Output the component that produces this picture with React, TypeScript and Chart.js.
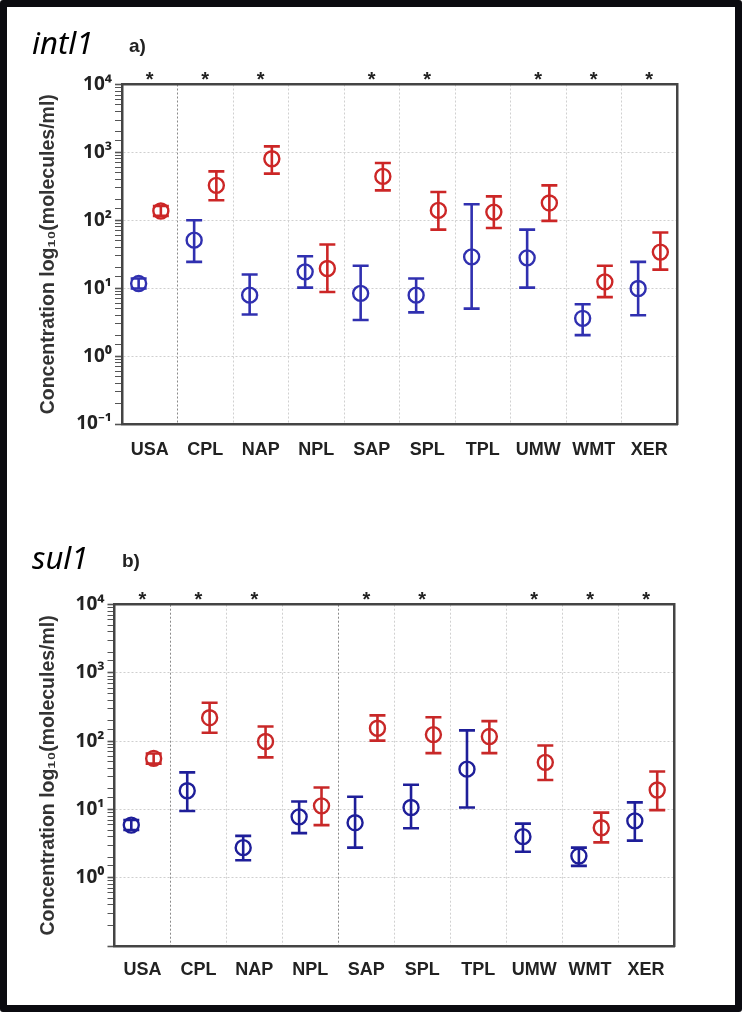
import React, { useEffect, useRef } from 'react';
import { Chart, registerables } from 'chart.js';

Chart.register(...registerables);

// ---------- data ----------
const categories = ['USA', 'CPL', 'NAP', 'NPL', 'SAP', 'SPL', 'TPL', 'UMW', 'WMT', 'XER'];

const intl1StarLabels = ['*', '*', '*', '', '*', '*', '', '*', '*', '*'];
const sul1StarLabels = ['*', '*', '*', '', '*', '*', '', '*', '*', '*'];

const yTickExponents = [-1, 0, 1, 2, 3, 4];
const intl1YTickLabels = ['10⁻¹', '10⁰', '10¹', '10²', '10³', '10⁴'];
const sul1YTickLabels = ['', '10⁰', '10¹', '10²', '10³', '10⁴'];
const yAxisTitle = 'Concentration log₁₀(molecules/ml)';

// intI1 (panel a)
const intl1BlueMean = [11.7, 51, 7.9, 17.4, 8.4, 7.9, 28.9, 28, 3.6, 9.9];
const intl1BlueLow = [9.9, 24.4, 4.1, 10.2, 3.4, 4.4, 5.0, 10.2, 2.04, 4.0];
const intl1BlueHigh = [13.9, 100, 15.9, 29.5, 21.4, 13.9, 172, 73, 5.8, 24.4];
const intl1RedMean = [137, 327, 807, 19.5, 443, 140, 132, 180, 12.4, 34];
const intl1RedLow = [116, 197, 487, 8.8, 276, 73, 77, 98, 7.4, 18.8];
const intl1RedHigh = [162, 525, 1226, 44, 697, 261, 225, 327, 21.4, 66];

// sul1 (panel b)
const sul1BlueMean = [5.9, 18.8, 2.76, 7.8, 6.4, 10.7, 39, 4.0, 2.08, 6.8];
const sul1BlueLow = [5.0, 9.5, 1.8, 4.5, 2.76, 5.3, 10.7, 2.4, 1.49, 3.5];
const sul1BlueHigh = [7.0, 35, 4.1, 13.1, 15.4, 23, 144, 6.2, 2.76, 12.7];
const sul1RedMean = [56, 221, 99, 11.3, 155, 125, 117, 49, 5.4, 19.3];
const sul1RedLow = [47, 133, 58, 5.9, 102, 67, 67, 27, 3.3, 9.8];
const sul1RedHigh = [66, 367, 164, 21, 239, 225, 197, 86.5, 9.0, 36];

// ---------- helpers ----------
const FONT = "'Liberation Sans', Arial, sans-serif";
const TICKFONT = "'Noto Sans', 'DejaVu Sans', sans-serif";
const isDecade = (v: number) => {
  const l = Math.log10(v);
  return Math.abs(l - Math.round(l)) < 1e-6;
};

type Area = { left: number; right: number; top: number; bottom: number };

type PanelProps = {
  top: number;
  height: number;
  area: Area;
  blueMean: number[];
  blueLow: number[];
  blueHigh: number[];
  redMean: number[];
  redLow: number[];
  redHigh: number[];
  stars: string[];
  yLabels: string[];
  blue: string;
  red: string;
  darkGrid: number[];
  labelPad: number;
};

function buildSeries(mean: number[], low: number[], high: number[], off: number, color: string) {
  const stems: any[] = [];
  const caps: any[] = [];
  low.forEach((l, i) => {
    stems.push({ x: i + off, y: l }, { x: i + off, y: high[i] }, { x: i + off, y: null });
    caps.push({ x: i + off, y: l }, { x: i + off, y: high[i] });
  });
  const centers = mean.map((m, i) => ({ x: i + off, y: m }));
  return [
    {
      type: 'line',
      data: stems,
      borderColor: color,
      borderWidth: 2.6,
      pointRadius: 0,
      spanGaps: false,
      fill: false,
      tension: 0,
      xAxisID: 'xd',
      yAxisID: 'y',
    },
    {
      type: 'scatter',
      data: caps,
      pointStyle: 'line',
      pointRadius: 8,
      pointBorderWidth: 2.6,
      pointBorderColor: color,
      borderColor: color,
      xAxisID: 'xd',
      yAxisID: 'y',
    },
    {
      type: 'scatter',
      data: centers,
      pointStyle: 'circle',
      pointRadius: 7.5,
      pointBorderWidth: 2.4,
      pointBorderColor: color,
      borderColor: color,
      pointBackgroundColor: 'rgba(0,0,0,0)',
      backgroundColor: 'rgba(0,0,0,0)',
      xAxisID: 'xd',
      yAxisID: 'y',
    },
  ];
}

function Panel(p: PanelProps) {
  const ref = useRef<HTMLCanvasElement>(null);
  useEffect(() => {
    const canvas = ref.current;
    if (!canvas) return;
    const W = 742;
    const axisColor = '#444';
    const datasets = [
      ...buildSeries(p.blueMean, p.blueLow, p.blueHigh, -0.2, p.blue),
      ...buildSeries(p.redMean, p.redLow, p.redHigh, 0.2, p.red),
    ];
    const chart = new Chart(canvas, {
      type: 'scatter',
      data: { datasets: datasets as any },
      options: {
        responsive: false,
        animation: false,
        events: [],
        layout: { padding: { left: 0, right: W - p.area.right, top: 0, bottom: 0 } },
        plugins: { legend: { display: false }, tooltip: { enabled: false } },
        scales: {
          xd: { type: 'linear', display: false, min: -0.5, max: 9.5 },
          x: {
            type: 'category',
            position: 'bottom',
            labels: categories,
            offset: true,
            grid: {
              offset: true,
              drawTicks: false,
              lineWidth: 1,
              color: (ctx: any) =>
                ctx.index === 0 || ctx.index === categories.length
                  ? 'rgba(0,0,0,0)'
                  : p.darkGrid.includes(ctx.index)
                  ? '#8a8a8a'
                  : '#d0d0d0',
            },
            border: { display: true, color: axisColor, width: 2.5, dash: [2, 2] },
            ticks: {
              autoSkip: false,
              maxRotation: 0,
              padding: p.labelPad,
              color: '#222',
              font: { family: FONT, size: 18, weight: 'bold' },
            },
            afterFit: (s: any) => {
              s.height = p.top + p.height - p.area.bottom;
            },
          } as any,
          x2: {
            type: 'category',
            position: 'top',
            labels: p.stars,
            offset: true,
            grid: { display: false, drawTicks: false },
            border: { display: true, color: axisColor, width: 2.5 },
            ticks: {
              autoSkip: false,
              maxRotation: 0,
              padding: -6,
              color: '#222',
              font: { family: FONT, size: 20, weight: 'bold', lineHeight: 1 },
            },
            afterFit: (s: any) => {
              s.height = p.area.top - p.top;
            },
          } as any,
          y: {
            type: 'logarithmic',
            position: 'left',
            min: 0.1,
            max: 10000,
            grid: {
              color: (ctx: any) => (ctx.tick && isDecade(ctx.tick.value) ? '#cfcfcf' : 'rgba(0,0,0,0)'),
              tickColor: '#555',
              tickLength: 7,
              tickWidth: (ctx: any) => (ctx.tick && isDecade(ctx.tick.value) ? 1.6 : 1),
            },
            border: { display: true, color: axisColor, width: 2.5, dash: [2, 2] },
            ticks: {
              autoSkip: false,
              padding: 3,
              color: '#222',
              font: { family: TICKFONT, size: 19, weight: 'bold' },
              callback: (v: any) => {
                const val = Number(v);
                if (!isDecade(val)) return '';
                const k = yTickExponents.indexOf(Math.round(Math.log10(val)));
                return k >= 0 ? p.yLabels[k] : '';
              },
            },
            title: {
              display: true,
              text: yAxisTitle,
              color: '#333',
              font: { family: FONT, size: 19.5, weight: 'bold' },
              padding: { top: 37, bottom: 0 },
            },
            afterFit: (s: any) => {
              s.width = p.area.left;
            },
          } as any,
          yr: {
            type: 'logarithmic',
            position: 'right',
            min: 0.1,
            max: 10000,
            ticks: { display: false },
            grid: { drawOnChartArea: false, drawTicks: false },
            border: { display: true, color: axisColor, width: 2.5 },
            afterFit: (s: any) => {
              s.width = 0;
            },
          } as any,
        },
      } as any,
    });
    return () => chart.destroy();
  }, []);
  return (
    <canvas
      ref={ref}
      width={742}
      height={p.height}
      style={{ position: 'absolute', left: 0, top: p.top, width: 742, height: p.height, display: 'block' }}
    />
  );
}

const geneStyle: React.CSSProperties = {
  position: 'absolute',
  fontFamily: "'Noto Sans', 'Open Sans', sans-serif",
  fontStyle: 'italic',
  fontSize: 31,
  lineHeight: 1,
  color: '#000',
  whiteSpace: 'nowrap',
};
const panelTagStyle: React.CSSProperties = {
  position: 'absolute',
  fontFamily: FONT,
  fontWeight: 'bold',
  fontSize: 19,
  lineHeight: 1,
  color: '#222',
  whiteSpace: 'nowrap',
};

export default function App() {
  return (
    <div
      style={{
        position: 'absolute',
        left: 0,
        top: 0,
        width: 742,
        height: 1012,
        background: '#fff',
        overflow: 'hidden',
      }}
    >
      <Panel
        top={60}
        height={425}
        area={{ left: 122, right: 677, top: 84.5, bottom: 424 }}
        blueMean={intl1BlueMean}
        blueLow={intl1BlueLow}
        blueHigh={intl1BlueHigh}
        redMean={intl1RedMean}
        redLow={intl1RedLow}
        redHigh={intl1RedHigh}
        stars={intl1StarLabels}
        yLabels={intl1YTickLabels}
        blue="#3030b0"
        red="#cc2626"
        darkGrid={[1]}
        labelPad={15}
      />
      <Panel
        top={575}
        height={430}
        area={{ left: 114.5, right: 674, top: 604.7, bottom: 946 }}
        blueMean={sul1BlueMean}
        blueLow={sul1BlueLow}
        blueHigh={sul1BlueHigh}
        redMean={sul1RedMean}
        redLow={sul1RedLow}
        redHigh={sul1RedHigh}
        stars={sul1StarLabels}
        yLabels={sul1YTickLabels}
        blue="#1e1e99"
        red="#c82828"
        darkGrid={[1, 4]}
        labelPad={13}
      />
      <div style={{ ...geneStyle, left: 32, top: 27 }}>intl1</div>
      <div style={{ ...panelTagStyle, left: 129, top: 36 }}>a)</div>
      <div style={{ ...geneStyle, left: 32, top: 542 }}>sul1</div>
      <div style={{ ...panelTagStyle, left: 122, top: 551 }}>b)</div>
      <div
        style={{
          position: 'absolute',
          left: 0,
          top: 0,
          width: 742,
          height: 1012,
          boxSizing: 'border-box',
          border: '7px solid #0b0b10',
          borderRadius: 3,
          pointerEvents: 'none',
        }}
      />
    </div>
  );
}
